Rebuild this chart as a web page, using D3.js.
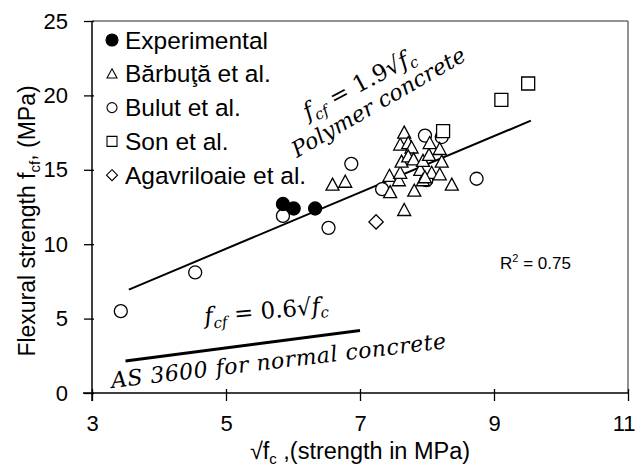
<!DOCTYPE html>
<html><head><meta charset="utf-8">
<script src="https://cdn.jsdelivr.net/npm/d3@7"></script>
<style>body{margin:0;background:#fff}</style>
</head><body><svg id="c" width="638" height="473"></svg>
<script>
// ---- data ----
const xTicks = [3, 5, 7, 9, 11];
const yTicks = [0, 5, 10, 15, 20, 25];
const experimentalX = [5.85, 6.01, 6.33];
const experimentalY = [12.7, 12.4, 12.4];
const barbutaX = [6.59, 6.78, 7.45, 7.44, 7.58, 7.60, 7.62, 7.60, 7.66, 7.72, 7.77, 7.72, 7.80, 7.81, 7.66, 7.90, 7.94, 7.94, 8.03, 8.04, 8.07, 8.19, 8.19, 8.22, 8.37, 7.97];
const barbutaY = [14.0, 14.2, 13.5, 14.6, 14.3, 14.8, 15.55, 16.7, 17.5, 16.8, 16.5, 15.9, 15.7, 13.6, 12.3, 15.0, 15.6, 14.3, 16.0, 16.8, 14.8, 14.7, 16.4, 15.55, 14.0, 14.5];
const bulutX = [3.43, 4.54, 5.85, 6.53, 6.87, 7.33, 7.97, 8.22, 7.99, 8.74];
const bulutY = [5.5, 8.1, 11.9, 11.1, 15.4, 13.7, 17.3, 17.2, 14.3, 14.4];
const sonX = [8.24, 9.11, 9.51];
const sonY = [17.6, 19.7, 20.8];
const agavX = [7.24];
const agavY = [11.5];
const fitX = [3.55, 9.55];
const fitY = [6.95, 18.3];
const asX = [3.5, 7.0];
const asY = [2.15, 4.2];
const legendLabels = ["Experimental", "Bărbuţă et al.", "Bulut et al.", "Son et al.", "Agavriloaie et al."];
const legendShapes = ["filled", "triangle", "circle", "square", "diamond"];

// ---- layout ----
const svg = d3.select("#c");
const L = 92, R = 628, T = 21, B = 393;
const x = d3.scaleLinear().domain([3, 11]).range([L, R]);
const y = d3.scaleLinear().domain([0, 25]).range([B, T]);
const sans = "Liberation Sans, Arial, sans-serif";
const serif = "DejaVu Serif, serif";

function shapePath(type, s) {
  if (type === "triangle") return `M0,${-s}L${s},${s*0.85}L${-s},${s*0.85}Z`;
  if (type === "square") return `M${-s},${-s}H${s}V${s}H${-s}Z`;
  if (type === "diamond") return `M0,${-s*1.1}L${s*1.1},0L0,${s*1.1}L${-s*1.1},0Z`;
  return d3.symbol(d3.symbolCircle, Math.PI * s * s)();
}

// frame (top/right gray)
svg.append("line").attr("x1", L).attr("x2", R).attr("y1", T).attr("y2", T).attr("stroke", "#6e6e6e").attr("stroke-width", 1.5);
svg.append("line").attr("x1", R).attr("x2", R).attr("y1", T).attr("y2", B).attr("stroke", "#6e6e6e").attr("stroke-width", 1.5);

// axes
const xa = svg.append("g").attr("transform", `translate(0,${B})`)
  .call(d3.axisBottom(x).tickValues(xTicks).tickSize(8).tickPadding(14).tickFormat(d3.format("d")));
const ya = svg.append("g").attr("transform", `translate(${L},0)`)
  .call(d3.axisLeft(y).tickValues(yTicks).tickSize(8).tickPadding(16).tickFormat(d3.format("d")));
[xa, ya].forEach(g => {
  g.select(".domain").attr("stroke", "#000").attr("stroke-width", 1.5);
  g.selectAll(".tick line").attr("stroke", "#000").attr("stroke-width", 1.3);
  g.selectAll(".tick text").attr("font-family", sans).attr("font-size", 22).attr("fill", "#000");
});
xa.select(".domain").attr("d", `M${L - 9},0H${R}`);
ya.select(".domain").attr("d", `M0,${T}V${B + 8}`);
xa.selectAll(".tick line").attr("y1", -4);
ya.selectAll(".tick line").attr("x1", 2);
xa.selectAll(".tick text").filter(d => d === 11).attr("text-anchor", "end").attr("dx", 7);

// axis titles
const xt = svg.append("text").attr("x", 360).attr("y", 459).attr("text-anchor", "middle")
  .attr("font-family", sans).attr("font-size", 23.5);
xt.append("tspan").text("√f");
xt.append("tspan").attr("font-size", 15).attr("dy", 5).text("c");
xt.append("tspan").attr("dy", -5).text(" ,(strength in MPa)");

const yt = svg.append("text").attr("transform", "translate(35,221) rotate(-90)").attr("text-anchor", "middle")
  .attr("font-family", sans).attr("font-size", 23);
yt.append("tspan").text("Flexural strength f");
yt.append("tspan").attr("font-size", 15).attr("dy", 5).text("cf");
yt.append("tspan").attr("dy", -5).text(", (MPa)");

// lines
const line = d3.line().x(d => x(d[0])).y(d => y(d[1]));
svg.append("path").datum(d3.zip(fitX, fitY)).attr("d", line).attr("stroke", "#000").attr("stroke-width", 2).attr("fill", "none");
svg.append("path").datum(d3.zip(asX, asY)).attr("d", line).attr("stroke", "#000").attr("stroke-width", 3).attr("fill", "none");

// points
function drawSeries(xs, ys, type) {
  svg.append("g").selectAll("path").data(d3.zip(xs, ys)).join("path")
    .attr("transform", d => `translate(${x(d[0])},${y(d[1])})`)
    .attr("d", shapePath(type, 6.5))
    .attr("fill", type === "filled" ? "#000" : "#fff")
    .attr("stroke", "#000").attr("stroke-width", 1.3);
}
drawSeries(bulutX, bulutY, "circle");
drawSeries(barbutaX, barbutaY, "triangle");
drawSeries(sonX, sonY, "square");
drawSeries(agavX, agavY, "diamond");
drawSeries(experimentalX, experimentalY, "filled");

// legend
legendLabels.forEach((lab, i) => {
  const cy = 40 + i * 33.8;
  svg.append("path").attr("transform", `translate(112,${cy})`)
    .attr("d", shapePath(legendShapes[i], legendShapes[i] === "filled" ? 6 : 5))
    .attr("fill", legendShapes[i] === "filled" ? "#000" : "#fff")
    .attr("stroke", "#000").attr("stroke-width", 1.1);
  svg.append("text").attr("x", 125).attr("y", cy + 8.5).attr("font-family", sans).attr("font-size", 24.5).text(lab);
});

// R^2
const r2 = svg.append("text").attr("x", 500).attr("y", 269).attr("font-family", sans).attr("font-size", 17);
r2.append("tspan").text("R");
r2.append("tspan").attr("font-size", 11).attr("dy", -7).text("2");
r2.append("tspan").attr("dy", 7).text(" = 0.75");

// annotations
function eq(px, py, ang, coef) {
  const t = svg.append("text").attr("transform", `translate(${px},${py}) rotate(${ang})`)
    .attr("font-family", serif).attr("font-style", "italic").attr("font-size", 23);
  t.append("tspan").text("f");
  t.append("tspan").attr("font-size", 15).attr("dy", 5).text("cf");
  t.append("tspan").attr("dy", -5).attr("font-style", "normal").text(" = " + coef + "√");
  t.append("tspan").text("f");
  t.append("tspan").attr("font-size", 15).attr("dy", 4).text("c");
}
eq(308, 120, -28, "1.9");
eq(205, 324, -5, "0.6");
svg.append("text").attr("transform", "translate(297,158) rotate(-30)")
  .attr("font-family", serif).attr("font-style", "italic").attr("font-size", 22)
  .attr("textLength", 197).attr("lengthAdjust", "spacing").text("Polymer concrete");
svg.append("text").attr("transform", "translate(112,388) rotate(-6.8)")
  .attr("font-family", serif).attr("font-style", "italic").attr("font-size", 22)
  .attr("textLength", 337).attr("lengthAdjust", "spacing").text("AS 3600 for normal concrete");
</script></body></html>
